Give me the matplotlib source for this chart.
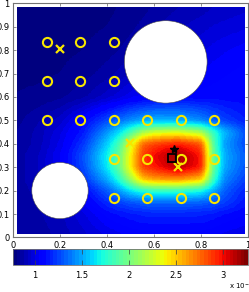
import numpy as np
import matplotlib
matplotlib.use("Agg")
import matplotlib.pyplot as plt
from matplotlib.patches import Circle

# concentration field (x 1e-5), on a non-uniform grid
grid_x = [0, 0.1, 0.2, 0.3, 0.4, 0.45, 0.5, 0.55, 0.6, 0.7, 0.8, 0.85, 0.9, 1.0]
grid_y = [0, 0.1, 0.15, 0.2, 0.25, 0.3, 0.35, 0.4, 0.45, 0.5, 0.6, 0.7, 0.8, 0.9, 1.0]
field = np.array([
    [0.85, 0.86, 0.90, 0.95, 1.00, 1.02, 1.04, 1.05, 1.05, 1.05, 1.05, 1.04, 1.02, 1.00],
    [0.86, 0.88, 0.92, 1.00, 1.10, 1.13, 1.15, 1.17, 1.18, 1.18, 1.17, 1.15, 1.12, 1.08],
    [0.86, 0.89, 0.95, 1.05, 1.20, 1.25, 1.30, 1.33, 1.35, 1.35, 1.33, 1.30, 1.25, 1.12],
    [0.86, 0.90, 0.98, 1.10, 1.32, 1.48, 1.65, 1.78, 1.82, 1.82, 1.72, 1.52, 1.32, 1.15],
    [0.86, 0.92, 1.03, 1.22, 1.52, 1.78, 2.15, 2.55, 2.65, 2.70, 2.55, 1.85, 1.42, 1.22],
    [0.86, 0.92, 1.05, 1.28, 1.67, 1.97, 2.42, 2.87, 2.97, 3.15, 2.97, 1.97, 1.50, 1.27],
    [0.86, 0.92, 1.05, 1.30, 1.70, 1.97, 2.42, 2.87, 3.02, 3.20, 2.97, 1.97, 1.52, 1.28],
    [0.85, 0.90, 1.02, 1.23, 1.60, 1.87, 2.32, 2.77, 2.87, 2.97, 2.82, 1.92, 1.47, 1.25],
    [0.84, 0.90, 1.00, 1.16, 1.47, 1.64, 1.88, 2.15, 2.28, 2.32, 2.18, 1.82, 1.55, 1.25],
    [0.83, 0.88, 0.95, 1.10, 1.28, 1.36, 1.44, 1.50, 1.53, 1.52, 1.42, 1.33, 1.25, 1.15],
    [0.81, 0.82, 0.84, 0.88, 0.95, 0.99, 1.03, 1.06, 1.08, 1.10, 1.10, 1.10, 1.10, 1.10],
    [0.80, 0.80, 0.81, 0.83, 0.87, 0.90, 0.93, 0.97, 1.00, 1.03, 1.05, 1.07, 1.08, 1.10],
    [0.80, 0.80, 0.80, 0.81, 0.83, 0.85, 0.87, 0.90, 0.93, 0.97, 1.00, 1.02, 1.04, 1.07],
    [0.80, 0.80, 0.80, 0.80, 0.81, 0.82, 0.84, 0.86, 0.88, 0.92, 0.95, 0.97, 0.98, 1.00],
    [0.80, 0.80, 0.80, 0.80, 0.80, 0.81, 0.82, 0.83, 0.85, 0.88, 0.90, 0.92, 0.93, 0.95],
])
clim = (0.77, 3.27)

# obstacles: (x, y, r)
holes = [(0.65, 0.75, 0.176), (0.2, 0.2, 0.12)]

# sensor positions
sens_x = [1/7, 2/7, 3/7, 1/7, 2/7, 3/7, 1/7, 2/7, 3/7, 4/7, 5/7, 6/7,
          3/7, 4/7, 5/7, 6/7, 3/7, 4/7, 5/7, 6/7]
sens_y = [5/6, 5/6, 5/6, 4/6, 4/6, 4/6, 3/6, 3/6, 3/6, 3/6, 3/6, 3/6,
          2/6, 2/6, 2/6, 2/6, 1/6, 1/6, 1/6, 1/6]

# estimates
cross_x = [0.2, 0.498, 0.70]
cross_y = [0.804, 0.402, 0.30]
true_src = (0.675, 0.34)
est_src = (0.686, 0.376)

cbar_ticks = [1, 1.5, 2, 2.5, 3]


def resample(vals, n=300, lo=0.015, hi=0.985, sigma=3.0):
    fx = np.linspace(lo, hi, n)
    rows = np.array([np.interp(fx, grid_x, r) for r in vals])
    img = np.array([np.interp(fx, grid_y, c) for c in rows.T]).T
    k = np.arange(-10, 11)
    k = np.exp(-0.5 * (k / sigma) ** 2)
    k /= k.sum()
    pad = np.pad(img, 10, mode="edge")
    pad = np.apply_along_axis(lambda v: np.convolve(v, k, mode="same"), 0, pad)
    pad = np.apply_along_axis(lambda v: np.convolve(v, k, mode="same"), 1, pad)
    return pad[10:-10, 10:-10]


fig = plt.figure(figsize=(2.49, 2.92), dpi=100)
ax = fig.add_axes([13 / 249, (292 - 237.4) / 292, 235 / 249, 234 / 292])
cmap = plt.get_cmap("jet", 64)
im = ax.imshow(resample(field), origin="lower", extent=(0.015, 0.985, 0.015, 0.985),
               cmap=cmap, vmin=clim[0], vmax=clim[1], interpolation="nearest",
               aspect="auto")
for hx, hy, hr in holes:
    ax.add_patch(Circle((hx, hy), hr, facecolor="white", edgecolor="0.3", lw=0.4, zorder=2))

yel = "#f7e600"
ax.plot(sens_x, sens_y, "o", ms=6.6, mfc="none", mec=yel, mew=1.5, zorder=3)
ax.plot(cross_x, cross_y, "x", ms=5.5, mec=yel, mew=1.6, zorder=3)
ax.plot(*true_src, "s", ms=5.5, mfc="none", mec="black", mew=1.3, zorder=4)
ax.plot(*est_src, "*", ms=6, color="black", zorder=4)

ax.set_xlim(0, 1)
ax.set_ylim(0, 1)
ax.set_xticks(np.arange(0, 1.01, 0.2))
ax.set_xticklabels(["0", "0.2", "0.4", "0.6", "0.8", "1"])
ax.set_yticks(np.arange(0, 1.01, 0.1))
ax.set_yticklabels(["0", "0.1", "0.2", "0.3", "0.4", "0.5", "0.6", "0.7", "0.8", "0.9", "1"])
ax.tick_params(direction="in", length=2.5, width=0.5, labelsize=6, pad=2.5,
               top=True, right=True, color="0.4")
for s in ax.spines.values():
    s.set_color("0.45")
    s.set_linewidth(0.8)

cax = fig.add_axes([13 / 249, (292 - 264.7) / 292, 235 / 249, 15.4 / 292])
cb = fig.colorbar(im, cax=cax, orientation="horizontal", ticks=cbar_ticks)
cb.ax.set_xticklabels(["1", "1.5", "2", "2.5", "3"])
cb.ax.tick_params(direction="in", length=3.5, width=0.5, labelsize=6, pad=4.5,
                  top=True, color="0.25")
cb.outline.set_edgecolor("0.45")
cb.outline.set_linewidth(0.6)
fig.text(0.918, 0.01, r"x 10$^{-5}$", fontsize=5, ha="left", va="baseline")

fig.savefig("out.png", dpi=100)
